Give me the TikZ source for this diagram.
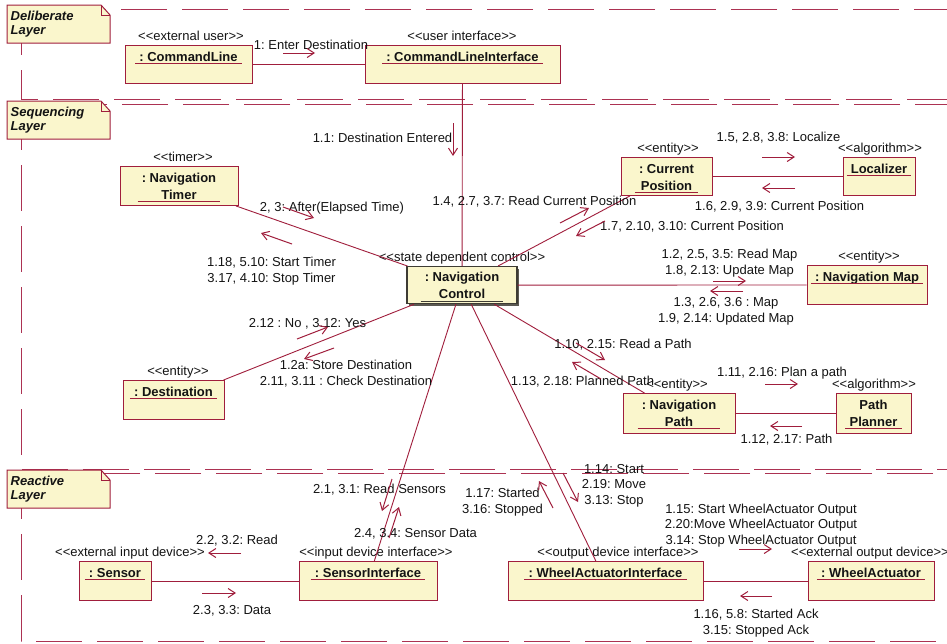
\documentclass[tikz,border=0pt]{standalone}
\usepackage{fontspec}
\setmainfont{Liberation Sans}
\usetikzlibrary{arrows.meta,calc,shadows}
\definecolor{maroon}{RGB}{160,30,60}
\definecolor{layercol}{RGB}{172,50,82}
\definecolor{objfill}{RGB}{250,246,204}
\definecolor{ctrlcol}{RGB}{62,60,52}
\definecolor{txt}{RGB}{20,20,20}
\tikzset{
  objbox/.style={draw=maroon, fill=objfill, line width=0.9pt, inner sep=0pt},
  ctrlbox/.style={draw=ctrlcol, fill=objfill, line width=1.3pt, inner sep=0pt,
    drop shadow={shadow xshift=2pt, shadow yshift=-2pt, fill=ctrlcol!85, opacity=1}},
  stereo/.style={anchor=base, inner sep=0pt, text=txt},
  objname/.style={anchor=base, inner xsep=4pt, inner ysep=0pt, align=center, text=txt,
    font=\fontsize{13}{16.5}\selectfont\bfseries},
  uline/.style={draw=maroon, line width=0.9pt},
  conn/.style={draw=maroon, line width=0.9pt},
  msg/.style={draw=maroon, line width=1pt, -{Straight Barb[length=7pt,width=9pt]}},
  lbl/.style={anchor=base, inner sep=0pt, text=txt, align=center},
  layer/.style={draw=layercol, line width=1pt, dash pattern=on 46pt off 15pt},
  notebox/.style={draw=maroon, fill=objfill, line width=1pt},
  notetext/.style={anchor=base west, inner sep=0pt, text=txt,
    font=\fontsize{13}{15}\selectfont\bfseries\itshape},
}
\frenchspacing
\newcommand\stt[1]{<{}<#1>{}>}
% id, cx, top, width, height, stereo cx, stereo text, name, underline offset
% (name node is placed on the baseline of its last line)
\newcommand\umlobj[9]{%
  \node[objbox, minimum width=#4pt, minimum height=#5pt, anchor=north] (#1) at (#2,#3) {};
  \node[stereo] (#1st) at (#6,#3-5) {\stt{#7}};
  \node[objname] (#1nm) at (#2,#3+#9-2) {#8};
  \draw[uline] ($(#1nm.west |- #1.north)+(0,#9)$) -- ($(#1nm.east |- #1.north)+(0,#9)$);
}
\newcommand\msgarrow[3]{%
  \coordinate (#1s) at #2; \coordinate (#1e) at #3;
  \draw[msg] (#1s) -- (#1e);
}
% id, top, line1, line2
\newcommand\layernote[4]{%
  \draw[notebox] (7,#2) -- (101,#2) -- (110,#2+10) -- (110,#2+38) -- (7,#2+38) -- cycle;
  \draw[draw=maroon, line width=0.8pt] (101,#2) -- (101,#2+10) -- (110,#2+10);
  \node[notetext] (#1a) at (10.5,#2+15) {#3};
  \node[notetext] (#1b) at (10.5,#2+29.5) {#4};
}
\begin{document}
\begin{tikzpicture}[x=1pt,y=-1pt, font=\fontsize{13}{15.5}\selectfont]
\useasboundingbox (0,0) rectangle (947,643);
\fill[white] (0,0) rectangle (947,643);
\begin{scope}
\clip (0,0) rectangle (947,643);
% layers
\draw[layer] (21,9) rectangle (980,99);
\draw[layer] (21,104) rectangle (980,469);
\draw[layer] (21,473) rectangle (980,641);
\layernote{nd}{5}{Deliberate}{Layer}
\layernote{ns}{101}{Sequencing}{Layer}
\layernote{nr}{470}{Reactive}{Layer}

% objects
\umlobj{cl}{188.5}{45}{127}{38}{191}{external user}{: CommandLine}{18}
\umlobj{cli}{462.5}{45}{195}{38}{462}{user interface}{: CommandLineInterface}{18}
\umlobj{timer}{179}{166}{118}{39}{183}{timer}{: Navigation\\Timer}{35}
\umlobj{curpos}{666.5}{157}{91}{38}{668}{entity}{: Current\\Position}{35}
\umlobj{loc}{879}{157}{72}{38}{880}{algorithm}{Localizer}{18}
\umlobj{map}{867}{265}{120}{39}{869}{entity}{: Navigation Map}{18}
\umlobj{dest}{173.5}{380}{101}{39}{178}{entity}{: Destination}{18}
\umlobj{npath}{679}{393}{112}{40}{677}{entity}{: Navigation\\Path}{35}
\umlobj{planner}{873.5}{393}{75}{40}{874}{algorithm}{Path\\Planner}{35}
\umlobj{sensor}{115}{561}{72}{39}{130}{external input device}{: Sensor}{18}
\umlobj{si}{368}{561}{138}{39}{376}{input device interface}{: SensorInterface}{18}
\umlobj{wai}{605.5}{561}{195}{39}{618}{output device interface}{: WheelActuatorInterface}{18}
\umlobj{wa}{871}{561}{126}{39}{870}{external output device}{: WheelActuator}{18}

% control object
\node[ctrlbox, minimum width=110pt, minimum height=37pt, anchor=north] (ctrl) at (462,266) {};
\node[stereo] (ctrlst) at (462,261) {\stt{state dependent control}};
\node[objname] (ctrlnm) at (462,298) {: Navigation\\Control};
\draw[uline, draw=ctrlcol] ($(ctrlnm.west |- ctrl.north)+(0,35)$) -- ($(ctrlnm.east |- ctrl.north)+(0,35)$);

% links
\draw[conn] (cl) -- (cli);
\draw[conn] (cli) -- (ctrl);
\draw[conn] (timer) -- (ctrl);
\draw[conn] (ctrl) -- (curpos);
\draw[conn] (curpos) -- (loc);
\draw[conn] (ctrl) -- (map);
\draw[conn] (ctrl) -- (dest);
\draw[conn] (ctrl) -- (npath);
\draw[conn] (npath) -- (planner);
\draw[conn] (ctrl) -- (si);
\draw[conn] (ctrl) -- (wai);
\draw[conn] (sensor) -- (si);
\draw[conn] (wai) -- (wa);

% labels (multi-line labels are placed on the baseline of their last line)
\node[lbl] (l1) at (311,49) {1: Enter Destination};
\node[lbl] (l2) at (382.5,142) {1.1: Destination Entered};
\node[lbl] (l3) at (332,211) {2, 3: After(Elapsed Time)};
\node[lbl] (l4) at (271.5,282) {1.18, 5.10: Start Timer\\3.17, 4.10: Stop Timer};
\node[lbl] (l5) at (534.5,205) {1.4, 2.7, 3.7: Read Current Position};
\node[lbl] (l6) at (692,230) {1.7, 2.10, 3.10: Current Position};
\node[lbl] (l7) at (778.5,141) {1.5, 2.8, 3.8: Localize};
\node[lbl] (l8) at (779.5,210) {1.6, 2.9, 3.9: Current Position};
\node[lbl] (l9) at (729.5,274) {1.2, 2.5, 3.5: Read Map\\1.8, 2.13: Update Map};
\node[lbl] (l10) at (726,322) {1.3, 2.6, 3.6 : Map\\1.9, 2.14: Updated Map};
\node[lbl] (l11) at (307.5,327) {2.12 : No , 3.12: Yes};
\node[lbl] (l12) at (346,385) {1.2a: Store Destination\\2.11, 3.11 : Check Destination};
\node[lbl] (l13) at (623,348) {1.10, 2.15: Read a Path};
\node[lbl] (l14) at (582.5,385) {1.13, 2.18: Planned Path};
\node[lbl] (l15) at (782,376) {1.11, 2.16: Plan a path};
\node[lbl] (l16) at (786.5,443) {1.12, 2.17: Path};
\node[lbl] (l17) at (379.5,493) {2.1, 3.1: Read Sensors};
\node[lbl] (l18) at (415.5,537) {2.4, 3.4: Sensor Data};
\node[lbl] (l19) at (237,544) {2.2, 3.2: Read};
\node[lbl] (l20) at (232,614) {2.3, 3.3: Data};
\node[lbl] (l21) at (502.5,513) {1.17: Started\\3.16: Stopped};
\node[lbl] (l22) at (614,504) {1.14: Start\\2.19: Move\\3.13: Stop};
\node[lbl] (l23) at (761,544) {1.15: Start WheelActuator Output\\2.20:Move WheelActuator Output\\3.14: Stop WheelActuator Output};
\node[lbl] (l24) at (756,634) {1.16, 5.8: Started Ack\\3.15: Stopped Ack};

% message arrows
\msgarrow{m1}{(283,53)}{(315,53)}
\msgarrow{m2}{(453,123)}{(453,156)}
\msgarrow{m3}{(283,207)}{(314,218)}
\msgarrow{m4}{(292,244)}{(261,233)}
\msgarrow{m5}{(560,223)}{(589,208)}
\msgarrow{m6}{(605,221)}{(576,236)}
\msgarrow{m7}{(762,157)}{(795,157)}
\msgarrow{m8}{(795,188)}{(762,188)}
\msgarrow{m9}{(713,281)}{(746,281)}
\msgarrow{m10}{(743,291)}{(710,291)}
\msgarrow{m11}{(297,339)}{(328,327)}
\msgarrow{m12}{(334,348)}{(304,359)}
\msgarrow{m13}{(576,343)}{(605,360)}
\msgarrow{m14}{(601,379)}{(572,362)}
\msgarrow{m15}{(765,384)}{(798,384)}
\msgarrow{m16}{(802,426)}{(770,426)}
\msgarrow{m17}{(392,479)}{(382,511)}
\msgarrow{m18}{(389,538)}{(399,507)}
\msgarrow{m19}{(241,553)}{(208,553)}
\msgarrow{m20}{(202,593)}{(236,593)}
\msgarrow{m21}{(553,508)}{(539,481)}
\msgarrow{m22}{(563,473)}{(578,502)}
\msgarrow{m23}{(739,549)}{(772,549)}
\msgarrow{m24}{(772,596)}{(740,596)}
\end{scope}
\end{tikzpicture}
\end{document}
